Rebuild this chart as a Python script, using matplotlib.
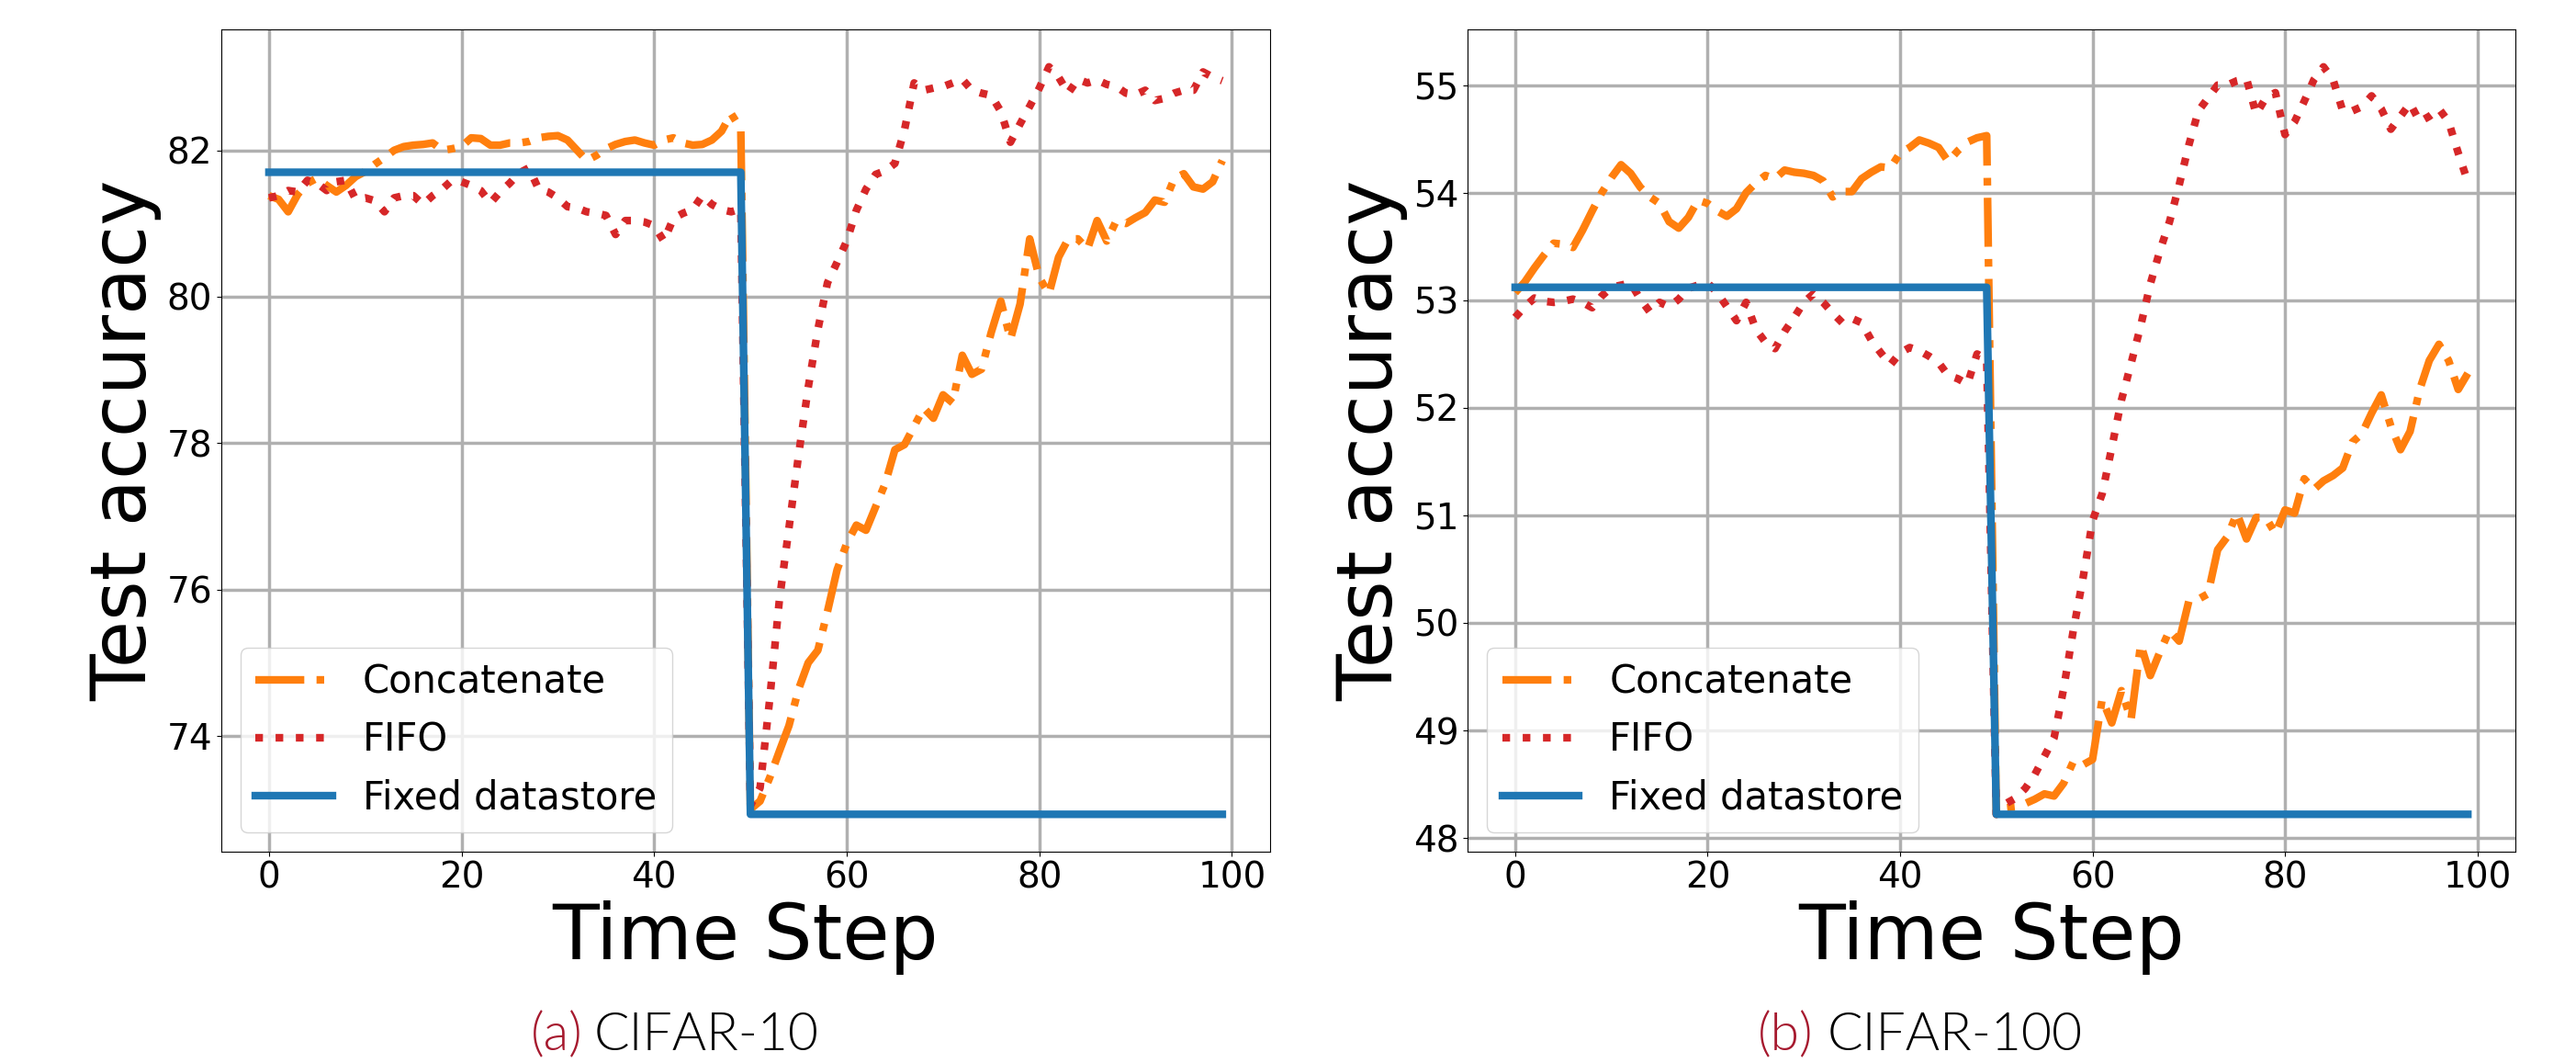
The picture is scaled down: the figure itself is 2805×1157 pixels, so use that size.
import matplotlib
matplotlib.use("Agg")
import matplotlib.pyplot as plt
from matplotlib import font_manager
import numpy as np
import os

steps = np.arange(100)

# CIFAR-10
c10_concat = [81.38, 81.33, 81.16, 81.40, 81.55, 81.62, 81.52, 81.43, 81.52, 81.64,
              81.71, 81.81, 81.90, 82.00, 82.05, 82.07, 82.08, 82.10, 82.00, 82.02,
              82.05, 82.17, 82.16, 82.07, 82.07, 82.10, 82.10, 82.12, 82.17, 82.19,
              82.20, 82.14, 82.00, 81.86, 81.93, 82.02, 82.08, 82.12, 82.14, 82.10,
              82.07, 82.14, 82.17, 82.10, 82.07, 82.08, 82.14, 82.26, 82.50, 82.29,
              73.00, 73.11, 73.43, 73.79, 74.14, 74.64, 75.00, 75.17, 75.70, 76.27,
              76.63, 76.88, 76.81, 77.13, 77.45, 77.91, 77.98, 78.23, 78.48, 78.34,
              78.66, 78.55, 79.20, 78.94, 79.01, 79.51, 79.94, 79.42, 79.90, 80.79,
              80.26, 80.04, 80.54, 80.79, 80.79, 80.65, 81.04, 80.76, 81.04, 81.00,
              81.08, 81.15, 81.32, 81.29, 81.61, 81.68, 81.50, 81.47, 81.57, 81.86]
c10_fifo = [81.35, 81.38, 81.45, 81.43, 81.59, 81.55, 81.45, 81.57, 81.59, 81.33,
            81.35, 81.31, 81.16, 81.35, 81.38, 81.38, 81.26, 81.38, 81.47, 81.59,
            81.57, 81.52, 81.45, 81.28, 81.43, 81.55, 81.69, 81.76, 81.47, 81.43,
            81.35, 81.23, 81.21, 81.16, 81.14, 81.11, 80.85, 81.04, 81.04, 81.02,
            80.97, 80.76, 81.07, 81.14, 81.19, 81.38, 81.26, 81.19, 81.16, 81.20,
            73.05, 73.29, 74.50, 75.85, 76.84, 77.84, 78.76, 79.55, 80.19, 80.47,
            80.76, 81.18, 81.47, 81.67, 81.72, 81.82, 82.28, 82.92, 82.82, 82.85,
            82.87, 82.92, 82.97, 82.82, 82.78, 82.75, 82.53, 82.11, 82.36, 82.60,
            82.85, 83.14, 83.00, 82.78, 82.97, 82.92, 82.96, 82.90, 82.87, 82.78,
            82.76, 82.82, 82.68, 82.71, 82.78, 82.82, 82.82, 83.07, 83.00, 82.95]
c10_fixed = np.repeat([81.70, 72.93], 50)

# CIFAR-100
c100_concat = [53.07, 53.17, 53.30, 53.42, 53.53, 53.52, 53.49, 53.65, 53.83, 54.00,
               54.14, 54.26, 54.18, 54.05, 53.96, 53.90, 53.73, 53.67, 53.77, 53.93,
               53.90, 53.83, 53.78, 53.85, 54.00, 54.09, 54.16, 54.13, 54.21, 54.19,
               54.18, 54.16, 54.11, 53.96, 54.01, 54.01, 54.13, 54.19, 54.24, 54.23,
               54.37, 54.42, 54.49, 54.46, 54.42, 54.29, 54.39, 54.47, 54.51, 54.53,
               48.22, 48.28, 48.29, 48.32, 48.36, 48.41, 48.39, 48.51, 48.71, 48.68,
               48.73, 49.29, 49.07, 49.37, 49.10, 49.80, 49.51, 49.73, 49.93, 49.83,
               50.20, 50.22, 50.27, 50.68, 50.80, 51.02, 50.78, 50.98, 50.98, 50.83,
               51.05, 51.02, 51.34, 51.24, 51.32, 51.37, 51.44, 51.68, 51.76, 51.95,
               52.12, 51.83, 51.61, 51.78, 52.17, 52.44, 52.59, 52.44, 52.17, 52.32]
c100_fifo = [52.84, 52.94, 53.02, 52.99, 52.98, 52.99, 53.01, 52.98, 52.93, 53.04,
             53.12, 53.14, 53.16, 53.01, 52.89, 52.98, 52.94, 53.01, 53.11, 53.14,
             53.16, 53.07, 52.94, 52.81, 52.98, 52.73, 52.61, 52.55, 52.71, 52.84,
             52.98, 53.06, 52.98, 52.88, 52.79, 52.83, 52.79, 52.63, 52.51, 52.40,
             52.51, 52.56, 52.53, 52.48, 52.42, 52.30, 52.27, 52.22, 52.50, 52.45,
             48.22, 48.32, 48.37, 48.46, 48.59, 48.76, 48.93, 49.39, 49.93, 50.41,
             50.95, 51.20, 51.63, 52.07, 52.41, 52.76, 53.15, 53.46, 53.73, 54.07,
             54.44, 54.76, 54.88, 55.00, 55.00, 55.04, 55.06, 54.73, 54.88, 54.93,
             54.54, 54.66, 54.85, 55.05, 55.17, 55.05, 54.76, 54.76, 54.80, 54.90,
             54.78, 54.59, 54.71, 54.83, 54.66, 54.71, 54.78, 54.66, 54.37, 54.10]
c100_fixed = np.repeat([53.12, 48.22], 50)

panels = [
    ("(a)", "CIFAR-10", c10_concat, c10_fifo, c10_fixed),
    ("(b)", "CIFAR-100", c100_concat, c100_fifo, c100_fixed),
]

# caption font: Lato Light if the file is there, else plain Lato
light = [f for f in font_manager.findSystemFonts()
         if os.path.basename(f).lower() in ('lato-light.ttf', 'lato-light.otf')]
if light:
    cap_font = font_manager.FontProperties(fname=light[0], size=41)
else:
    cap_font = font_manager.FontProperties(family='Lato', size=41)

fig = plt.figure(figsize=(28.05, 11.57), dpi=100)
axes = [fig.add_axes([0.0859, 0.1988, 0.4071, 0.7735]),
        fig.add_axes([0.5697, 0.1988, 0.4068, 0.7735])]

cap_x = [(0.2061, 0.2307), (0.6824, 0.7094)]

for ax, (tag, name, concat, fifo, fixed), (xa, xb) in zip(axes, panels, cap_x):
    ax.plot(steps, concat, '-.', color='tab:orange', lw=6, label='Concatenate')
    ax.plot(steps, fifo, ':', color='tab:red', lw=6, label='FIFO')
    ax.plot(steps, fixed, '-', color='tab:blue', lw=6, label='Fixed datastore')
    ax.grid(True, color='#b0b0b0', lw=2.5)
    ax.set_axisbelow(True)
    ax.set_xticks([0, 20, 40, 60, 80, 100])
    ax.tick_params(labelsize=28)
    ax.set_xlabel('Time Step', fontsize=60)
    ax.set_ylabel('Test accuracy', fontsize=60)
    ax.legend(loc='lower left', fontsize=30)
    fig.text(xa, 0.0121, tag, fontproperties=cap_font,
             color='#a6192e', va='baseline')
    fig.text(xb, 0.0121, name, fontproperties=cap_font,
             color='black', va='baseline')

fig.savefig('out.png', dpi=100)
